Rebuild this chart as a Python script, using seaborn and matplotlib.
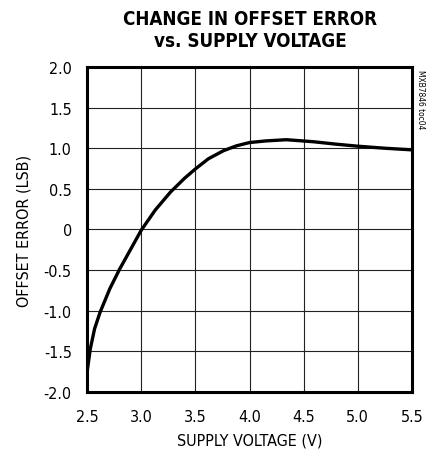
import matplotlib
matplotlib.use('Agg')
import matplotlib.pyplot as plt
import pandas as pd
import seaborn as sns

# values
supply_v = [2.50, 2.53, 2.57, 2.62, 2.71, 2.80, 2.90, 3.00, 3.13, 3.27, 3.40, 3.50,
            3.62, 3.76, 3.88, 4.00, 4.15, 4.34, 4.59, 4.80, 5.00, 5.25, 5.50]
offset_err = [-1.76, -1.47, -1.22, -1.02, -0.73, -0.49, -0.25, -0.01, 0.24, 0.46, 0.63, 0.745,
              0.87, 0.97, 1.03, 1.07, 1.09, 1.105, 1.08, 1.05, 1.025, 1.00, 0.98]

x_ticks = [2.5, 3.0, 3.5, 4.0, 4.5, 5.0, 5.5]
y_ticks = [-2.0, -1.5, -1.0, -0.5, 0, 0.5, 1.0, 1.5, 2.0]
y_labels = ['-2.0', '-1.5', '-1.0', '-0.5', '0', '0.5', '1.0', '1.5', '2.0']

sns.set_style("white")
plt.rcParams['font.family'] = ['Liberation Sans Narrow', 'DejaVu Sans']
plt.rcParams['font.stretch'] = 'condensed'
plt.rcParams['text.color'] = 'black'
plt.rcParams['axes.labelcolor'] = 'black'

df = pd.DataFrame({'v': supply_v, 'err': offset_err})

fig = plt.figure(figsize=(4.33, 4.52), dpi=100)
ax = fig.add_axes([0.201, 0.1305, 0.7505, 0.7191])

sns.lineplot(data=df, x='v', y='err', color='black', linewidth=2.4, ax=ax)

ax.set_xlim(2.5, 5.5)
ax.set_ylim(-2.0, 2.0)
ax.set_xticks(x_ticks)
ax.set_xticklabels([f'{t:.1f}' for t in x_ticks])
ax.set_yticks(y_ticks)
ax.set_yticklabels(y_labels)
ax.tick_params(axis='both', length=0, labelsize=11.5, colors='black')
ax.tick_params(axis='x', pad=12)
ax.tick_params(axis='y', pad=11)
ax.grid(True, color='#222222', linewidth=0.8)
for s in ax.spines.values():
    s.set_color('black')
    s.set_linewidth(2.2)

ax.set_xlabel('SUPPLY VOLTAGE (V)', fontsize=11.5, labelpad=6)
ax.set_ylabel('OFFSET ERROR (LSB)', fontsize=11.5, labelpad=9)

fig.text(0.578, 0.978, 'CHANGE IN OFFSET ERROR\nvs. SUPPLY VOLTAGE', ha='center', va='top',
         fontsize=13.5, fontweight='heavy', linespacing=1.2)
fig.text(0.972, 0.845, 'MXB7846 toc04', rotation=270, ha='center', va='top', fontsize=6)

plt.savefig('out.png', dpi=100)
